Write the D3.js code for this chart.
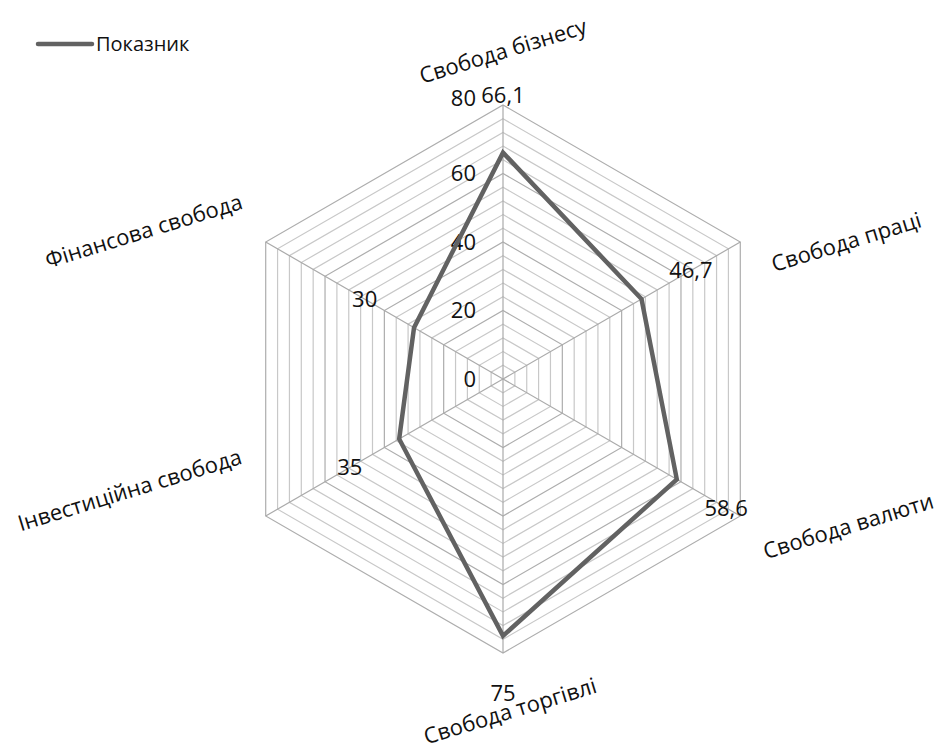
<!DOCTYPE html>
<html>
<head>
<meta charset="utf-8">
<script src="https://cdn.jsdelivr.net/npm/d3@7"></script>
<style>
  body { margin: 0; background: #fff; }
  text { font-family: "Open Sans", "Noto Sans", sans-serif; fill: #111; }
</style>
</head>
<body>
<div id="radar"></div>
<script>
// data
var categories = ["Свобода бізнесу", "Свобода праці", "Свобода валюти",
    "Свобода торгівлі", "Інвестиційна свобода", "Фінансова свобода"];
var values = [66.1, 46.7, 58.6, 75, 35, 30];
var valueLabels = ["66,1", "46,7", "58,6", "75", "35", "30"];
var tickValues = [0, 20, 40, 60, 80];
var seriesName = "Показник";

// svg container
var svgWidth = 941;
var svgHeight = 749;
var cx = 503, cy = 379;
var radius = 274;

// nudges for the category labels (from the outer vertex)
var catNudge = [[0, -54], [106, 0], [108, 10], [7, 58], [-136, -26], [-122, -11]];

var svg = d3.select("#radar")
    .append("svg")
    .attr("width", svgWidth)
    .attr("height", svgHeight);

var rScale = d3.scaleLinear().domain([0, 80]).range([0, radius]);
var angle = i => i * Math.PI * 2 / categories.length;

function pt(i, v) {
    var r = rScale(v);
    return [cx + r * Math.sin(angle(i)), cy - r * Math.cos(angle(i))];
}

var chartGroup = svg.append("g");

// rings every 4 units
var rings = d3.range(4, 81, 4);
chartGroup.selectAll(".ring")
    .data(rings)
    .enter()
    .append("polygon")
    .attr("class", "ring")
    .attr("points", v => categories.map((c, i) => pt(i, v).join(",")).join(" "))
    .attr("fill", "none")
    .attr("stroke", v => v % 20 === 0 ? "#adadad" : "#c8c8c8")
    .attr("stroke-width", 1.2);

// spokes
chartGroup.selectAll(".spoke")
    .data(categories)
    .enter()
    .append("line")
    .attr("x1", cx)
    .attr("y1", cy)
    .attr("x2", (d, i) => pt(i, 80)[0])
    .attr("y2", (d, i) => pt(i, 80)[1])
    .attr("stroke", "#aaaaaa")
    .attr("stroke-width", 1.2);

// tick labels on the top spoke
chartGroup.selectAll(".tick-label")
    .data(tickValues)
    .enter()
    .append("text")
    .attr("class", "tick-label")
    .attr("x", cx - 27)
    .attr("y", d => pt(0, d)[1] - (d === 80 ? 7 : 0))
    .attr("dy", "0.35em")
    .attr("text-anchor", "end")
    .style("font-size", "22px")
    .text(d => d);

// the series
var line = d3.line().curve(d3.curveLinearClosed);
chartGroup.append("path")
    .attr("d", line(values.map((v, i) => pt(i, v))))
    .attr("fill", "none")
    .attr("stroke", "#626262")
    .attr("stroke-width", 4.5)
    .attr("stroke-linejoin", "miter");

// value labels, pushed out along the spoke
chartGroup.selectAll(".val-label")
    .data(values)
    .enter()
    .append("text")
    .attr("class", "val-label")
    .attr("x", (d, i) => pt(i, d)[0] + 57 * Math.sin(angle(i)))
    .attr("y", (d, i) => pt(i, d)[1] - 57 * Math.cos(angle(i)))
    .attr("dy", "0.35em")
    .attr("text-anchor", "middle")
    .style("font-size", "22px")
    .text((d, i) => valueLabels[i]);

// category labels, rotated
chartGroup.selectAll(".cat-label")
    .data(categories)
    .enter()
    .append("text")
    .attr("class", "cat-label")
    .attr("transform", (d, i) => {
        var p = pt(i, 80);
        var x = p[0] + catNudge[i][0], y = p[1] + catNudge[i][1];
        return `translate(${x},${y}) rotate(-17)`;
    })
    .attr("dy", "0.35em")
    .attr("text-anchor", "middle")
    .style("font-size", "22px")
    .text(d => d);

// legend
var legend = svg.append("g").attr("transform", "translate(38, 44)");
legend.append("line")
    .attr("x1", 0).attr("x2", 54)
    .attr("y1", 0).attr("y2", 0)
    .attr("stroke", "#626262")
    .attr("stroke-width", 4.5)
    .attr("stroke-linecap", "round");
legend.append("text")
    .attr("x", 58)
    .attr("dy", "0.35em")
    .style("font-size", "20px")
    .text(seriesName);
</script>
</body>
</html>
